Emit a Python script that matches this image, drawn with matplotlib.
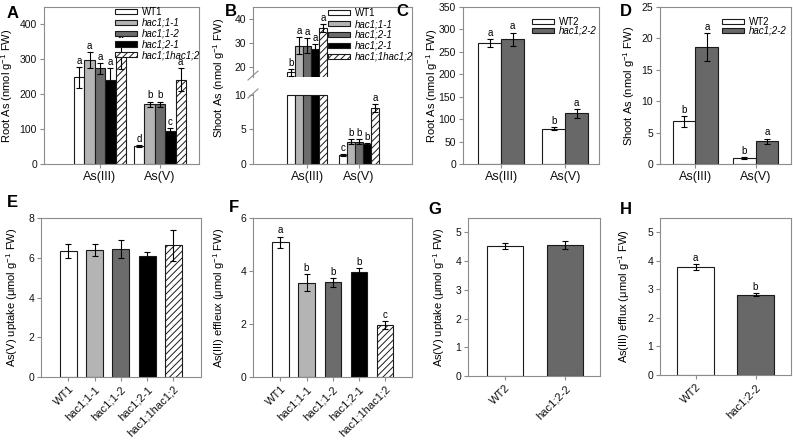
import numpy as np
import matplotlib
matplotlib.use('Agg')
import matplotlib.pyplot as plt
from matplotlib.lines import Line2D

plt.rcParams['font.family'] = ['Liberation Sans', 'DejaVu Sans']
plt.rcParams['mathtext.fontset'] = 'custom'
plt.rcParams['mathtext.rm'] = 'Liberation Sans'
plt.rcParams['mathtext.it'] = 'Liberation Sans:italic'
plt.rcParams['hatch.linewidth'] = 0.7

# ---- data ----
forms = ['As(III)', 'As(V)']
lines1 = ['WT1', 'hac1;1-1', 'hac1;1-2', 'hac1;2-1', 'hac1;1hac1;2']
legendB = ['WT1', 'hac1;1-1', 'hac1;2-1', 'hac1;2-1', 'hac1;1hac1;2']
lines2 = ['WT2', 'hac1;2-2']

rootA = [[248, 298, 274, 242, 311], [52, 171, 171, 95, 241]]
rootA_err = [[29, 22, 16, 32, 40], [2, 8, 8, 9, 33]]
rootA_let = [['a', 'a', 'a', 'a', 'a'], ['d', 'b', 'b', 'c', 'a']]

shootB = [[18.0, 29.0, 29.0, 27.6, 36.2], [1.3, 3.2, 3.2, 2.9, 8.1]]
shootB_err = [[1.4, 3.5, 3.0, 2.0, 1.6], [0.1, 0.35, 0.35, 0.1, 0.55]]
shootB_let = [['b', 'a', 'a', 'a', 'a'], ['c', 'b', 'b', 'b', 'a']]

rootC = [[270, 278], [79, 113]]
rootC_err = [[9, 15], [4, 10]]
rootC_let = [['a', 'a'], ['b', 'a']]

shootD = [[6.8, 18.6], [0.9, 3.66]]
shootD_err = [[0.9, 2.2], [0.15, 0.4]]
shootD_let = [['b', 'a'], ['b', 'a']]

uptakeE = [6.34, 6.39, 6.44, 6.08, 6.62]
uptakeE_err = [0.37, 0.32, 0.43, 0.19, 0.8]

effluxF = [5.08, 3.56, 3.58, 3.96, 1.96]
effluxF_err = [0.22, 0.32, 0.17, 0.14, 0.14]
effluxF_let = ['a', 'b', 'b', 'b', 'c']

uptakeG = [4.53, 4.56]
uptakeG_err = [0.1, 0.13]

effluxH = [3.79, 2.81]
effluxH_err = [0.11, 0.05]
effluxH_let = ['a', 'b']

colors1 = ['white', '#b4b4b4', '#6c6c6c', 'black', 'white']
hatch1 = ['', '', '', '', '/////']
colors2 = ['white', '#686868']
hatch2 = ['', '']

W, H = 793, 440
fig = plt.figure(figsize=(W / 100, H / 100), dpi=100)
GRAY = '#8c8c8c'


def add_ax(rect):
    l, t, r, b = rect
    return fig.add_axes([l / W, 1 - b / H, (r - l) / W, (b - t) / H])


def style(ax):
    for s in ax.spines.values():
        s.set_color(GRAY)
        s.set_linewidth(0.8)
    ax.tick_params(direction='out', length=3, width=0.8, color=GRAY,
                   labelsize=7.5, pad=2, labelcolor='#111111')


def ylab(ax, rect, text, xr, yc=None):
    l, t, r, b = rect
    if yc is None:
        yc = (t + b) / 2
    ax.set_ylabel(text, fontsize=8)
    ax.yaxis.set_label_coords((xr - l) / (r - l), (b - yc) / (b - t))


def letters(ax, x, tops, labs):
    for xi, ti, li in zip(x, tops, labs):
        ax.annotate(li, (xi, ti), xytext=(0, 0.8), textcoords='offset points',
                    ha='center', va='bottom', fontsize=7)


def grouped(ax, means, errs, labs, names, colors, hatches, w, cap=None, show=True):
    means = np.array(means, float)
    errs = np.array(errs, float)
    n = means.shape[1]
    pos = np.arange(means.shape[0])
    handles = []
    for j in range(n):
        x = pos + (j - (n - 1) / 2) * w
        h = means[:, j] if cap is None else np.minimum(means[:, j], cap)
        b = ax.bar(x, h, w, color=colors[j], edgecolor='#1a1a1a', linewidth=0.8,
                   hatch=hatches[j], label=names[j], zorder=2)
        handles.append(b)
        if show:
            ax.errorbar(x, means[:, j], errs[:, j], fmt='none', ecolor='black',
                        elinewidth=0.8, capsize=2.2, capthick=0.8, zorder=3)
            letters(ax, x, means[:, j] + errs[:, j], [labs[i][j] for i in range(len(pos))])
    ax.set_xticks(np.arange(len(forms)))
    ax.set_xticklabels(forms, fontsize=9)
    return handles


def legend(ax, handles, names, x, y, sp=0.1):
    lg = ax.legend(handles, names, loc='upper left', bbox_to_anchor=(x, y),
                   frameon=False, fontsize=7, handlelength=2.3, handleheight=0.45,
                   handletextpad=0.5, labelspacing=sp, borderpad=0, borderaxespad=0)
    for t in lg.get_texts()[1:]:
        t.set_fontstyle('italic')


def simple(ax, vals, errs, names, colors, hatches, w, labs=None):
    x = np.arange(len(vals))
    ax.bar(x, vals, w, color=colors, edgecolor='#1a1a1a', linewidth=0.8,
           hatch=hatches, zorder=2)
    ax.errorbar(x, vals, errs, fmt='none', ecolor='black', elinewidth=0.8,
                capsize=2.2, capthick=0.8, zorder=3)
    if labs:
        letters(ax, x, np.array(vals) + np.array(errs), labs)
    ax.set_xticks(x)
    ax.set_xticklabels(names, rotation=45, ha='right', rotation_mode='anchor', fontsize=8)


def panel(letter, x, y):
    fig.text(x / W, 1 - y / H, letter, fontsize=12, fontweight='bold',
             ha='left', va='center')


unit = 'nmol g$^{-1}$ FW'
uunit = '\u03bcmol g$^{-1}$ FW'

# ---- A ----
rA = (44, 7, 199, 164)
ax = add_ax(rA)
style(ax)
hs = grouped(ax, rootA, rootA_err, rootA_let, lines1, colors1, hatch1, 0.173)
ax.set_xlim(-0.933, 1.65)
ax.set_ylim(0, 450)
ax.set_yticks([0, 100, 200, 300, 400])
legend(ax, hs, lines1, (115 - 44) / 155, 0.998, sp=0.07)
ylab(ax, rA, 'Root As (' + unit + ')', 15)
panel('A', 7, 13)

# ---- B (broken axis) ----
rBu = (253, 7, 412, 77)
rBl = (253, 94, 412, 164)
axu = add_ax(rBu)
axl = add_ax(rBl)
style(axu)
style(axl)
bw = 0.154
hs = grouped(axu, shootB, shootB_err, shootB_let, legendB, colors1, hatch1, bw, show=False)
xu = (np.arange(5) - 2) * bw
axu.errorbar(xu, shootB[0], shootB_err[0], fmt='none', ecolor='black',
             elinewidth=0.8, capsize=2.2, capthick=0.8, zorder=3)
letters(axu, xu, np.array(shootB[0]) + np.array(shootB_err[0]), shootB_let[0])
axu.set_ylim(16, 45)
axu.set_yticks([20, 30, 40])
axu.spines['bottom'].set_visible(False)
axu.tick_params(axis='x', which='both', bottom=False, labelbottom=False)
grouped(axl, shootB, shootB_err, shootB_let, legendB, colors1, hatch1, bw, cap=10, show=False)
xl = 1 + (np.arange(5) - 2) * bw
axl.errorbar(xl, shootB[1], shootB_err[1], fmt='none', ecolor='black',
             elinewidth=0.8, capsize=2.2, capthick=0.8, zorder=3)
letters(axl, xl, np.array(shootB[1]) + np.array(shootB_err[1]), shootB_let[1])
axl.set_ylim(0, 10.1)
axl.set_yticks([0, 5, 10])
axl.spines['top'].set_visible(False)
for a in (axu, axl):
    a.set_xlim(-1.04, 2.02)
legend(axu, hs, legendB, (328 - 253) / 159, 0.985)
ylab(axl, rBl, 'Shoot As (' + unit + ')', 227, yc=78)
fig.add_artist(Line2D([412 / W, 412 / W], [1 - 77 / H, 1 - 94 / H], color=GRAY, lw=0.8))
for y0 in (80, 98):
    fig.add_artist(Line2D([248 / W, 258 / W], [1 - y0 / H, 1 - (y0 - 9) / H], color=GRAY, lw=0.8))
panel('B', 225, 12)

# ---- C ----
rC = (463, 7, 599, 164)
ax = add_ax(rC)
style(ax)
hs = grouped(ax, rootC, rootC_err, rootC_let, lines2, colors2, hatch2, 0.36)
ax.set_xlim(-0.6, 1.53)
ax.set_ylim(0, 350)
ax.set_yticks(range(0, 351, 50))
legend(ax, hs, lines2, (532 - 463) / 136, 0.935, sp=-0.15)
ylab(ax, rC, 'Root As (' + unit + ')', 440)
panel('C', 396, 12)

# ---- D ----
rD = (660, 7, 791, 164)
ax = add_ax(rD)
style(ax)
hs = grouped(ax, shootD, shootD_err, shootD_let, lines2, colors2, hatch2, 0.38)
ax.set_xlim(-0.59, 1.59)
ax.set_ylim(0, 25)
ax.set_yticks(range(0, 26, 5))
legend(ax, hs, lines2, (722 - 660) / 131, 0.935, sp=-0.15)
ylab(ax, rD, 'Shoot As (' + unit + ')', 637)
panel('D', 620, 12)

# ---- E ----
rE = (41, 218, 201, 377)
ax = add_ax(rE)
style(ax)
simple(ax, uptakeE, uptakeE_err, lines1, colors1, hatch1, 0.65)
ax.set_xlim(-1.05, 5.06)
ax.set_ylim(0, 8)
ax.set_yticks([0, 2, 4, 6, 8])
ylab(ax, rE, 'As(V) uptake (' + uunit + ')', 20)
panel('E', 7, 202)

# ---- F ----
rF = (253, 218, 412, 377)
ax = add_ax(rF)
style(ax)
simple(ax, effluxF, effluxF_err, lines1, colors1, hatch1, 0.62, effluxF_let)
ax.set_xlim(-1.05, 5.04)
ax.set_ylim(0, 6)
ax.set_yticks([0, 2, 4, 6])
ylab(ax, rF, 'As(III) effleux (' + uunit + ')', 227)
panel('F', 229, 207)

# ---- G ----
rG = (468, 218, 600, 376)
ax = add_ax(rG)
style(ax)
simple(ax, uptakeG, uptakeG_err, lines2, colors2, hatch2, 0.6)
ax.set_xlim(-0.617, 1.583)
ax.set_ylim(0, 5.5)
ax.set_yticks(range(0, 6))
ylab(ax, rG, 'As(V) uptake (' + uunit + ')', 447)
panel('G', 428, 209)

# ---- H ----
rH = (660, 218, 791, 375)
ax = add_ax(rH)
style(ax)
simple(ax, effluxH, effluxH_err, lines2, colors2, hatch2, 0.62, effluxH_let)
ax.set_xlim(-0.592, 1.59)
ax.set_ylim(0, 5.5)
ax.set_yticks(range(0, 6))
ylab(ax, rH, 'As(III) efflux (' + uunit + ')', 632)
panel('H', 620, 209)

fig.savefig('out.png', dpi=100)
